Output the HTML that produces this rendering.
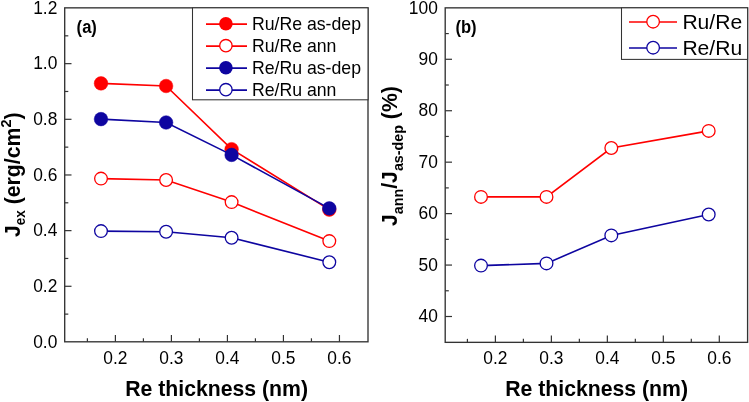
<!DOCTYPE html><html><head><meta charset="utf-8"><style>html,body{margin:0;padding:0;background:#fff;width:749px;height:402px;overflow:hidden}svg{display:block;will-change:transform}text{font-family:"Liberation Sans", sans-serif}</style></head><body>
<svg width="749" height="402" viewBox="0 0 749 402">
<rect x="0" y="0" width="749" height="402" fill="#fff"/>
<line x1="115.40" y1="341.8" x2="115.40" y2="335.0" stroke="#333333" stroke-width="1.2"/>
<line x1="171.41" y1="341.8" x2="171.41" y2="335.0" stroke="#333333" stroke-width="1.2"/>
<line x1="227.42" y1="341.8" x2="227.42" y2="335.0" stroke="#333333" stroke-width="1.2"/>
<line x1="283.43" y1="341.8" x2="283.43" y2="335.0" stroke="#333333" stroke-width="1.2"/>
<line x1="339.44" y1="341.8" x2="339.44" y2="335.0" stroke="#333333" stroke-width="1.2"/>
<line x1="87.39" y1="341.8" x2="87.39" y2="338.3" stroke="#333333" stroke-width="1.2"/>
<line x1="143.41" y1="341.8" x2="143.41" y2="338.3" stroke="#333333" stroke-width="1.2"/>
<line x1="199.41" y1="341.8" x2="199.41" y2="338.3" stroke="#333333" stroke-width="1.2"/>
<line x1="255.43" y1="341.8" x2="255.43" y2="338.3" stroke="#333333" stroke-width="1.2"/>
<line x1="311.44" y1="341.8" x2="311.44" y2="338.3" stroke="#333333" stroke-width="1.2"/>
<line x1="64.7" y1="286.29" x2="71.5" y2="286.29" stroke="#333333" stroke-width="1.2"/>
<line x1="64.7" y1="230.63" x2="71.5" y2="230.63" stroke="#333333" stroke-width="1.2"/>
<line x1="64.7" y1="174.97" x2="71.5" y2="174.97" stroke="#333333" stroke-width="1.2"/>
<line x1="64.7" y1="119.31" x2="71.5" y2="119.31" stroke="#333333" stroke-width="1.2"/>
<line x1="64.7" y1="63.65" x2="71.5" y2="63.65" stroke="#333333" stroke-width="1.2"/>
<line x1="64.7" y1="314.12" x2="68.3" y2="314.12" stroke="#333333" stroke-width="1.2"/>
<line x1="64.7" y1="258.46" x2="68.3" y2="258.46" stroke="#333333" stroke-width="1.2"/>
<line x1="64.7" y1="202.80" x2="68.3" y2="202.80" stroke="#333333" stroke-width="1.2"/>
<line x1="64.7" y1="147.14" x2="68.3" y2="147.14" stroke="#333333" stroke-width="1.2"/>
<line x1="64.7" y1="91.48" x2="68.3" y2="91.48" stroke="#333333" stroke-width="1.2"/>
<line x1="64.7" y1="35.82" x2="68.3" y2="35.82" stroke="#333333" stroke-width="1.2"/>
<rect x="64.7" y="7.85" width="303.3" height="333.95" fill="none" stroke="#333333" stroke-width="1.35"/>
<text transform="translate(57.35,347.65) scale(1,1.07)" font-size="17.4" text-anchor="end" fill="#000">0.0</text>
<text transform="translate(57.35,291.99) scale(1,1.07)" font-size="17.4" text-anchor="end" fill="#000">0.2</text>
<text transform="translate(57.35,236.33) scale(1,1.07)" font-size="17.4" text-anchor="end" fill="#000">0.4</text>
<text transform="translate(57.35,180.67) scale(1,1.07)" font-size="17.4" text-anchor="end" fill="#000">0.6</text>
<text transform="translate(57.35,125.01) scale(1,1.07)" font-size="17.4" text-anchor="end" fill="#000">0.8</text>
<text transform="translate(57.35,69.35) scale(1,1.07)" font-size="17.4" text-anchor="end" fill="#000">1.0</text>
<text transform="translate(57.35,13.69) scale(1,1.07)" font-size="17.4" text-anchor="end" fill="#000">1.2</text>
<text transform="translate(115.40,363.7) scale(1,1.07)" font-size="17.4" text-anchor="middle" fill="#000">0.2</text>
<text transform="translate(171.41,363.7) scale(1,1.07)" font-size="17.4" text-anchor="middle" fill="#000">0.3</text>
<text transform="translate(227.42,363.7) scale(1,1.07)" font-size="17.4" text-anchor="middle" fill="#000">0.4</text>
<text transform="translate(283.43,363.7) scale(1,1.07)" font-size="17.4" text-anchor="middle" fill="#000">0.5</text>
<text transform="translate(339.44,363.7) scale(1,1.07)" font-size="17.4" text-anchor="middle" fill="#000">0.6</text>
<path d="M101.00,83.40 L166.10,86.00 L231.60,149.20 L329.30,209.60" fill="none" stroke="#FF0000" stroke-width="1.6"/>
<circle cx="101.00" cy="83.40" r="6.8" fill="#FF0000" stroke="#FF0000" stroke-width="0.5"/>
<circle cx="166.10" cy="86.00" r="6.8" fill="#FF0000" stroke="#FF0000" stroke-width="0.5"/>
<circle cx="231.60" cy="149.20" r="6.8" fill="#FF0000" stroke="#FF0000" stroke-width="0.5"/>
<circle cx="329.30" cy="209.60" r="6.8" fill="#FF0000" stroke="#FF0000" stroke-width="0.5"/>
<path d="M101.00,178.60 L166.10,180.00 L231.60,202.10 L329.30,241.10" fill="none" stroke="#FF0000" stroke-width="1.6"/>
<circle cx="101.00" cy="178.60" r="6.35" fill="#fff" stroke="#FF0000" stroke-width="1.3"/>
<circle cx="166.10" cy="180.00" r="6.35" fill="#fff" stroke="#FF0000" stroke-width="1.3"/>
<circle cx="231.60" cy="202.10" r="6.35" fill="#fff" stroke="#FF0000" stroke-width="1.3"/>
<circle cx="329.30" cy="241.10" r="6.35" fill="#fff" stroke="#FF0000" stroke-width="1.3"/>
<path d="M101.00,119.10 L166.10,122.50 L231.60,154.90 L329.30,208.40" fill="none" stroke="#0E05A0" stroke-width="1.6"/>
<circle cx="101.00" cy="119.10" r="6.8" fill="#0E05A0" stroke="#0E05A0" stroke-width="0.5"/>
<circle cx="166.10" cy="122.50" r="6.8" fill="#0E05A0" stroke="#0E05A0" stroke-width="0.5"/>
<circle cx="231.60" cy="154.90" r="6.8" fill="#0E05A0" stroke="#0E05A0" stroke-width="0.5"/>
<circle cx="329.30" cy="208.40" r="6.8" fill="#0E05A0" stroke="#0E05A0" stroke-width="0.5"/>
<path d="M101.00,231.10 L166.10,231.70 L231.60,237.80 L329.30,262.20" fill="none" stroke="#0E05A0" stroke-width="1.6"/>
<circle cx="101.00" cy="231.10" r="6.35" fill="#fff" stroke="#0E05A0" stroke-width="1.3"/>
<circle cx="166.10" cy="231.70" r="6.35" fill="#fff" stroke="#0E05A0" stroke-width="1.3"/>
<circle cx="231.60" cy="237.80" r="6.35" fill="#fff" stroke="#0E05A0" stroke-width="1.3"/>
<circle cx="329.30" cy="262.20" r="6.35" fill="#fff" stroke="#0E05A0" stroke-width="1.3"/>
<rect x="192.5" y="7.85" width="175.5" height="91.95" fill="#fff" stroke="#333333" stroke-width="1.05"/>
<line x1="206" y1="24.099999999999998" x2="247" y2="24.099999999999998" stroke="#FF0000" stroke-width="1.7"/>
<circle cx="225.9" cy="23.7" r="6.8" fill="#FF0000"/>
<text x="251.9" y="29.80" font-size="17.7" fill="#000">Ru/Re as-dep</text>
<line x1="206" y1="46.1" x2="247" y2="46.1" stroke="#FF0000" stroke-width="1.7"/>
<circle cx="225.9" cy="45.7" r="6.2" fill="#fff" stroke="#FF0000" stroke-width="1.3"/>
<text x="251.9" y="51.80" font-size="17.7" fill="#000">Ru/Re ann</text>
<line x1="206" y1="68.10000000000001" x2="247" y2="68.10000000000001" stroke="#0E05A0" stroke-width="1.7"/>
<circle cx="225.9" cy="67.7" r="6.8" fill="#0E05A0"/>
<text x="251.9" y="73.80" font-size="17.7" fill="#000">Re/Ru as-dep</text>
<line x1="206" y1="90.10000000000001" x2="247" y2="90.10000000000001" stroke="#0E05A0" stroke-width="1.7"/>
<circle cx="225.9" cy="89.7" r="6.2" fill="#fff" stroke="#0E05A0" stroke-width="1.3"/>
<text x="251.9" y="95.80" font-size="17.7" fill="#000">Re/Ru ann</text>
<text transform="translate(76.6,32.8) scale(1,1.05)" font-size="16.6" font-weight="bold" fill="#000">(a)</text>
<text transform="translate(216.6,396) scale(1,1.06)" font-size="21.25" font-weight="bold" text-anchor="middle" fill="#000">Re thickness (nm)</text>
<text transform="translate(19.9,237) rotate(-90) scale(1,1.06)" font-size="21.25" font-weight="bold" fill="#000">J<tspan font-size="13.5" dy="5.2">ex</tspan><tspan dy="-5.2"> (erg/cm</tspan><tspan font-size="14.5" dy="-8">2</tspan><tspan dy="8">)</tspan></text>
<line x1="495.40" y1="342.35" x2="495.40" y2="335.55" stroke="#333333" stroke-width="1.2"/>
<line x1="551.38" y1="342.35" x2="551.38" y2="335.55" stroke="#333333" stroke-width="1.2"/>
<line x1="607.35" y1="342.35" x2="607.35" y2="335.55" stroke="#333333" stroke-width="1.2"/>
<line x1="663.32" y1="342.35" x2="663.32" y2="335.55" stroke="#333333" stroke-width="1.2"/>
<line x1="719.30" y1="342.35" x2="719.30" y2="335.55" stroke="#333333" stroke-width="1.2"/>
<line x1="467.41" y1="342.35" x2="467.41" y2="338.85" stroke="#333333" stroke-width="1.2"/>
<line x1="523.39" y1="342.35" x2="523.39" y2="338.85" stroke="#333333" stroke-width="1.2"/>
<line x1="579.36" y1="342.35" x2="579.36" y2="338.85" stroke="#333333" stroke-width="1.2"/>
<line x1="635.34" y1="342.35" x2="635.34" y2="338.85" stroke="#333333" stroke-width="1.2"/>
<line x1="691.31" y1="342.35" x2="691.31" y2="338.85" stroke="#333333" stroke-width="1.2"/>
<line x1="445.2" y1="316.50" x2="452.0" y2="316.50" stroke="#333333" stroke-width="1.2"/>
<line x1="445.2" y1="265.06" x2="452.0" y2="265.06" stroke="#333333" stroke-width="1.2"/>
<line x1="445.2" y1="213.62" x2="452.0" y2="213.62" stroke="#333333" stroke-width="1.2"/>
<line x1="445.2" y1="162.17" x2="452.0" y2="162.17" stroke="#333333" stroke-width="1.2"/>
<line x1="445.2" y1="110.73" x2="452.0" y2="110.73" stroke="#333333" stroke-width="1.2"/>
<line x1="445.2" y1="59.29" x2="452.0" y2="59.29" stroke="#333333" stroke-width="1.2"/>
<line x1="445.2" y1="290.78" x2="448.8" y2="290.78" stroke="#333333" stroke-width="1.2"/>
<line x1="445.2" y1="239.34" x2="448.8" y2="239.34" stroke="#333333" stroke-width="1.2"/>
<line x1="445.2" y1="187.90" x2="448.8" y2="187.90" stroke="#333333" stroke-width="1.2"/>
<line x1="445.2" y1="136.45" x2="448.8" y2="136.45" stroke="#333333" stroke-width="1.2"/>
<line x1="445.2" y1="85.01" x2="448.8" y2="85.01" stroke="#333333" stroke-width="1.2"/>
<line x1="445.2" y1="33.57" x2="448.8" y2="33.57" stroke="#333333" stroke-width="1.2"/>
<rect x="445.2" y="7.85" width="302.40000000000003" height="334.5" fill="none" stroke="#333333" stroke-width="1.35"/>
<text transform="translate(437.85,322.20) scale(1,1.07)" font-size="17.4" text-anchor="end" fill="#000">40</text>
<text transform="translate(437.85,270.76) scale(1,1.07)" font-size="17.4" text-anchor="end" fill="#000">50</text>
<text transform="translate(437.85,219.32) scale(1,1.07)" font-size="17.4" text-anchor="end" fill="#000">60</text>
<text transform="translate(437.85,167.87) scale(1,1.07)" font-size="17.4" text-anchor="end" fill="#000">70</text>
<text transform="translate(437.85,116.43) scale(1,1.07)" font-size="17.4" text-anchor="end" fill="#000">80</text>
<text transform="translate(437.85,64.99) scale(1,1.07)" font-size="17.4" text-anchor="end" fill="#000">90</text>
<text transform="translate(437.85,13.55) scale(1,1.07)" font-size="17.4" text-anchor="end" fill="#000">100</text>
<text transform="translate(495.40,363.7) scale(1,1.07)" font-size="17.4" text-anchor="middle" fill="#000">0.2</text>
<text transform="translate(551.38,363.7) scale(1,1.07)" font-size="17.4" text-anchor="middle" fill="#000">0.3</text>
<text transform="translate(607.35,363.7) scale(1,1.07)" font-size="17.4" text-anchor="middle" fill="#000">0.4</text>
<text transform="translate(663.32,363.7) scale(1,1.07)" font-size="17.4" text-anchor="middle" fill="#000">0.5</text>
<text transform="translate(719.30,363.7) scale(1,1.07)" font-size="17.4" text-anchor="middle" fill="#000">0.6</text>
<path d="M481.00,196.90 L546.50,196.90 L611.30,148.00 L708.70,130.90" fill="none" stroke="#FF0000" stroke-width="1.6"/>
<circle cx="481.00" cy="196.90" r="6.35" fill="#fff" stroke="#FF0000" stroke-width="1.3"/>
<circle cx="546.50" cy="196.90" r="6.35" fill="#fff" stroke="#FF0000" stroke-width="1.3"/>
<circle cx="611.30" cy="148.00" r="6.35" fill="#fff" stroke="#FF0000" stroke-width="1.3"/>
<circle cx="708.70" cy="130.90" r="6.35" fill="#fff" stroke="#FF0000" stroke-width="1.3"/>
<path d="M481.00,265.60 L546.50,263.40 L611.30,235.40 L708.70,214.50" fill="none" stroke="#0E05A0" stroke-width="1.6"/>
<circle cx="481.00" cy="265.60" r="6.35" fill="#fff" stroke="#0E05A0" stroke-width="1.3"/>
<circle cx="546.50" cy="263.40" r="6.35" fill="#fff" stroke="#0E05A0" stroke-width="1.3"/>
<circle cx="611.30" cy="235.40" r="6.35" fill="#fff" stroke="#0E05A0" stroke-width="1.3"/>
<circle cx="708.70" cy="214.50" r="6.35" fill="#fff" stroke="#0E05A0" stroke-width="1.3"/>
<rect x="621.5" y="7.85" width="126.10000000000002" height="51.55" fill="#fff" stroke="#333333" stroke-width="1.05"/>
<line x1="629" y1="22.0" x2="677" y2="22.0" stroke="#FF0000" stroke-width="1.7"/>
<circle cx="653.1" cy="21.7" r="6.3" fill="#fff" stroke="#FF0000" stroke-width="1.3"/>
<text x="682.4" y="28.80" font-size="21.1" fill="#000">Ru/Re</text>
<line x1="629" y1="48.0" x2="677" y2="48.0" stroke="#0E05A0" stroke-width="1.7"/>
<circle cx="653.1" cy="47.7" r="6.3" fill="#fff" stroke="#0E05A0" stroke-width="1.3"/>
<text x="682.4" y="54.80" font-size="21.1" fill="#000">Re/Ru</text>
<text transform="translate(455.4,32.8) scale(1,1.05)" font-size="16.6" font-weight="bold" fill="#000">(b)</text>
<text transform="translate(596.6,396) scale(1,1.06)" font-size="21.25" font-weight="bold" text-anchor="middle" fill="#000">Re thickness (nm)</text>
<text transform="translate(397.4,226) rotate(-90) scale(1,1.06)" font-size="21.25" font-weight="bold" fill="#000">J<tspan font-size="14.3" dy="5.2">ann</tspan><tspan dy="-5.2">/J</tspan><tspan font-size="14.3" dy="5.2">as-dep</tspan><tspan dy="-5.2"> (%)</tspan></text>
</svg></body></html>
